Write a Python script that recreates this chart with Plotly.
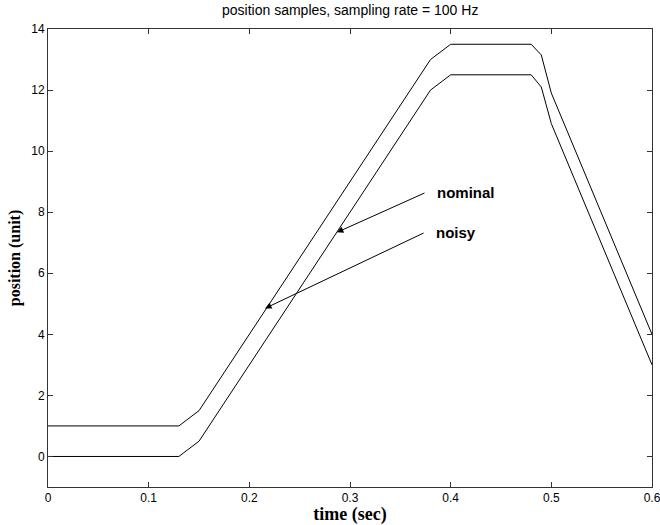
import plotly.graph_objects as go

t_nominal = [0.0, 0.13, 0.15, 0.38, 0.40, 0.48, 0.49, 0.50, 0.60]
pos_nominal = [0.0, 0.0, 0.5, 12.0, 12.5, 12.5, 12.1, 10.9, 3.0]

t_noisy = [0.0, 0.13, 0.15, 0.38, 0.40, 0.48, 0.49, 0.50, 0.60]
pos_noisy = [1.0, 1.0, 1.5, 13.0, 13.5, 13.5, 13.15, 11.9, 4.0]

x_ticks = [0, 0.1, 0.2, 0.3, 0.4, 0.5, 0.6]
x_tick_labels = ["0", "0.1", "0.2", "0.3", "0.4", "0.5", "0.6"]
y_ticks = [0, 2, 4, 6, 8, 10, 12, 14]

# annotation label: (text, arrow head x, head y, tail x, tail y)
labels = ["nominal", "noisy"]
head_x = [0.287, 0.2156]
head_y = [7.34, 4.85]
tail_x = [0.3755, 0.3745]
tail_y = [8.65, 7.34]

fig = go.Figure()
fig.add_trace(go.Scatter(x=t_noisy, y=pos_noisy, mode="lines",
                         line=dict(color="black", width=1), name="noisy",
                         showlegend=False))
fig.add_trace(go.Scatter(x=t_nominal, y=pos_nominal, mode="lines",
                         line=dict(color="black", width=1), name="nominal",
                         showlegend=False))

for lab, hx, hy, tx, ty in zip(labels, head_x, head_y, tail_x, tail_y):
    fig.add_annotation(x=hx, y=hy, ax=tx, ay=ty, xref="x", yref="y",
                       axref="x", ayref="y", text="", showarrow=True,
                       arrowhead=2, arrowsize=1.3, arrowwidth=1,
                       arrowcolor="black")
    fig.add_annotation(x=tx, y=ty, xref="x", yref="y", text="<b>" + lab + "</b>",
                       showarrow=False, xanchor="left", yanchor="middle",
                       xshift=9,
                       font=dict(family="Liberation Sans, Arial", size=15,
                                 color="black"))

axis_common = dict(showline=True, linecolor="#333", linewidth=1, mirror="ticks",
                   ticks="inside", ticklen=5, tickcolor="#333", showgrid=False,
                   zeroline=False, automargin=False,
                   tickfont=dict(family="Liberation Sans, Arial", size=12,
                                 color="black"))

fig.update_layout(
    width=660, height=525,
    margin=dict(l=48, r=8, t=29, b=38),
    paper_bgcolor="white", plot_bgcolor="white",
    xaxis=dict(range=[0, 0.6], tickvals=x_ticks, ticktext=x_tick_labels,
               ticklabeloverflow="allow",
               title=dict(text="<b>time (sec)</b>", standoff=1,
                          font=dict(family="Liberation Serif, Times New Roman",
                                    size=18, color="black")),
               **axis_common),
    yaxis=dict(range=[-1, 14], tickvals=y_ticks,
               title=dict(text="<b>position (unit)</b>", standoff=6,
                          font=dict(family="Liberation Serif, Times New Roman",
                                    size=16, color="black")),
               **axis_common),
)

fig.add_annotation(text="position samples, sampling rate = 100 Hz",
                   xref="paper", yref="paper", x=0.5, y=1.0, yshift=19,
                   xanchor="center", yanchor="middle", showarrow=False,
                   font=dict(family="Liberation Sans, Arial", size=14,
                             color="black"))

fig.write_html(
    "out.html",
    config={"displayModeBar": False},
    post_script="document.body.style.margin='0';document.body.style.overflow='hidden';",
)
